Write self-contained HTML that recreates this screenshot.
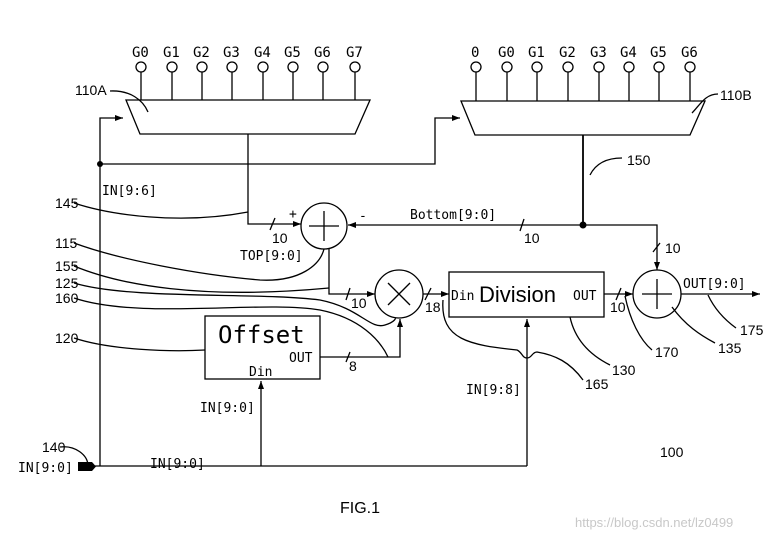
<!DOCTYPE html>
<html><head><style>
html,body{margin:0;padding:0;background:#fff;}
svg{display:block;}
text{font-family:"DejaVu Sans Mono","Liberation Mono",monospace;fill:#000;}
.n{font-family:"Liberation Sans",sans-serif;font-size:14px;}
</style></head><body>
<svg width="776" height="540" viewBox="0 0 776 540" xmlns="http://www.w3.org/2000/svg">
<defs><marker id="a" markerWidth="8" markerHeight="6" refX="8" refY="3" orient="auto" markerUnits="userSpaceOnUse"><path d="M0,0 L8,3 L0,6 z" fill="#000"/></marker></defs>
<g stroke="#000" stroke-width="1.3" fill="none">
<path d="M126,100 L370,100 L355,134 L140,134 Z"/>
<line x1="141" y1="72" x2="141" y2="100"/><circle cx="141" cy="67" r="5"/>
<line x1="172" y1="72" x2="172" y2="100"/><circle cx="172" cy="67" r="5"/>
<line x1="202" y1="72" x2="202" y2="100"/><circle cx="202" cy="67" r="5"/>
<line x1="232" y1="72" x2="232" y2="100"/><circle cx="232" cy="67" r="5"/>
<line x1="263" y1="72" x2="263" y2="100"/><circle cx="263" cy="67" r="5"/>
<line x1="293" y1="72" x2="293" y2="100"/><circle cx="293" cy="67" r="5"/>
<line x1="323" y1="72" x2="323" y2="100"/><circle cx="323" cy="67" r="5"/>
<line x1="355" y1="72" x2="355" y2="100"/><circle cx="355" cy="67" r="5"/>
<path d="M461,101 L705,101 L690,135 L475,135 Z"/>
<line x1="476" y1="72" x2="476" y2="101"/><circle cx="476" cy="67" r="5"/>
<line x1="507" y1="72" x2="507" y2="101"/><circle cx="507" cy="67" r="5"/>
<line x1="537" y1="72" x2="537" y2="101"/><circle cx="537" cy="67" r="5"/>
<line x1="568" y1="72" x2="568" y2="101"/><circle cx="568" cy="67" r="5"/>
<line x1="599" y1="72" x2="599" y2="101"/><circle cx="599" cy="67" r="5"/>
<line x1="629" y1="72" x2="629" y2="101"/><circle cx="629" cy="67" r="5"/>
<line x1="659" y1="72" x2="659" y2="101"/><circle cx="659" cy="67" r="5"/>
<line x1="690" y1="72" x2="690" y2="101"/><circle cx="690" cy="67" r="5"/>
<polyline points="100,466 100,118 123,118" marker-end="url(#a)"/>
<polyline points="100,164 435,164 435,118 460,118" marker-end="url(#a)"/>
<polyline points="248,134 248,224 301,224" marker-end="url(#a)"/>
<line x1="270" y1="230" x2="275" y2="218"/>
<circle cx="324" cy="226" r="23"/>
<line x1="309" y1="226" x2="339" y2="226"/><line x1="324" y1="211" x2="324" y2="241"/>
<line x1="583" y1="135" x2="583" y2="225" stroke-width="1.8"/>
<line x1="583" y1="225" x2="348" y2="225" marker-end="url(#a)"/>
<line x1="520" y1="231" x2="524" y2="219"/>
<polyline points="583,225 657,225 657,270" marker-end="url(#a)"/>
<line x1="653" y1="252" x2="660" y2="243"/>
<polyline points="329,249 329,294 375,294" marker-end="url(#a)"/>
<line x1="346" y1="300" x2="350" y2="288"/>
<circle cx="399" cy="294" r="24"/>
<line x1="388" y1="283" x2="410" y2="305"/><line x1="410" y1="283" x2="388" y2="305"/>
<line x1="423" y1="294" x2="449" y2="294" marker-end="url(#a)"/>
<line x1="425" y1="300" x2="431" y2="288"/>
<rect x="449" y="272" width="155" height="45"/>
<line x1="604" y1="294" x2="633" y2="294" marker-end="url(#a)"/>
<line x1="616" y1="300" x2="621" y2="288"/>
<circle cx="657" cy="294" r="24"/>
<line x1="642" y1="294" x2="672" y2="294"/><line x1="657" y1="279" x2="657" y2="309"/>
<line x1="681" y1="294" x2="760" y2="294" marker-end="url(#a)"/>
<rect x="205" y="316" width="115" height="63"/>
<polyline points="320,357 400,357 400,319" marker-end="url(#a)"/>
<line x1="346" y1="362" x2="350" y2="352"/>
<line x1="261" y1="466" x2="261" y2="381" marker-end="url(#a)"/>
<line x1="527" y1="466" x2="527" y2="319" marker-end="url(#a)"/>
<line x1="95" y1="466" x2="527" y2="466"/>
<path d="M110,91 C130,90 143,100 148,112"/>
<path d="M74,203 C110,215 180,225 248,212"/>
<path d="M74,243 C120,260 200,275 260,280 C300,282 320,265 324,249"/>
<path d="M74,266 C120,285 200,300 329,288"/>
<path d="M74,283 C130,300 260,292 320,300 C360,308 370,330 385,325 C395,322 396,318 395,318"/>
<path d="M74,298 C140,320 260,300 320,310 C360,318 380,340 388,357"/>
<path d="M74,338 C110,350 170,352 205,350"/>
<path d="M443,300 C440,340 470,345 517,350 C522,352 522,358 527,358 C532,358 532,352 537,352 C555,355 570,362 583,380"/>
<path d="M570,317 C575,340 590,355 610,365"/>
<path d="M625,296 C630,320 640,340 652,350"/>
<path d="M672,307 C685,325 700,335 715,343"/>
<path d="M708,295 C715,310 725,320 736,328"/>
<path d="M590,175 C595,165 605,158 622,158"/>
<path d="M718,94 C705,94 700,105 692,113"/>
<path d="M60,447 C75,445 88,455 88,466"/>
</g>
<circle cx="100" cy="164" r="3" fill="#000"/>
<circle cx="583" cy="225" r="3.5" fill="#000"/>
<path d="M78,462 L92,462 L96,466.5 L92,471 L78,471 Z" fill="#000"/>
<g font-size="14">
<text x="132" y="57">G0</text><text x="163" y="57">G1</text><text x="193" y="57">G2</text><text x="223" y="57">G3</text><text x="254" y="57">G4</text><text x="284" y="57">G5</text><text x="314" y="57">G6</text><text x="346" y="57">G7</text>
<text x="471" y="57">0</text><text x="498" y="57">G0</text><text x="528" y="57">G1</text><text x="559" y="57">G2</text><text x="590" y="57">G3</text><text x="620" y="57">G4</text><text x="650" y="57">G5</text><text x="681" y="57">G6</text>
</g>
<text class="n" x="75" y="95">110A</text>
<text class="n" x="720" y="100">110B</text>
<text class="n" x="627" y="165">150</text>
<text class="n" x="55" y="208">145</text>
<text class="n" x="55" y="248">115</text>
<text class="n" x="55" y="271">155</text>
<text class="n" x="55" y="288">125</text>
<text class="n" x="55" y="303">160</text>
<text class="n" x="55" y="343">120</text>
<text class="n" x="585" y="389">165</text>
<text class="n" x="612" y="375">130</text>
<text class="n" x="655" y="357">170</text>
<text class="n" x="718" y="353">135</text>
<text class="n" x="740" y="335">175</text>
<text class="n" x="660" y="457">100</text>
<text class="n" x="42" y="452">140</text>
<text class="n" x="272" y="243">10</text>
<text class="n" x="524" y="243">10</text>
<text class="n" x="665" y="253">10</text>
<text class="n" x="351" y="308">10</text>
<text class="n" x="425" y="312">18</text>
<text class="n" x="610" y="312">10</text>
<text class="n" x="349" y="371">8</text>
<g font-size="13">
<text x="102" y="195">IN[9:6]</text>
<text x="240" y="260">TOP[9:0]</text>
<text x="410" y="219">Bottom[9:0]</text>
<text x="289" y="218">+</text><text x="359" y="220">-</text>
<text x="683" y="288">OUT[9:0]</text>
<text x="200" y="412">IN[9:0]</text>
<text x="150" y="468">IN[9:0]</text>
<text x="18" y="472">IN[9:0]</text>
<text x="466" y="394">IN[9:8]</text>
<text x="289" y="362">OUT</text>
<text x="249" y="376">Din</text>
<text x="451" y="300">Din</text>
<text x="573" y="300">OUT</text>
</g>
<text x="218" y="343" font-size="24">Offset</text>
<text x="479" y="302" font-size="22" style="font-family:Liberation Sans">Division</text>
<text x="340" y="513" font-size="16" style="font-family:Liberation Sans">FIG.1</text>
<text x="575" y="527" font-size="13" style="font-family:Liberation Sans;fill:#c8c8c8">https://blog.csdn.net/lz0499</text>
</svg>
</body></html>
